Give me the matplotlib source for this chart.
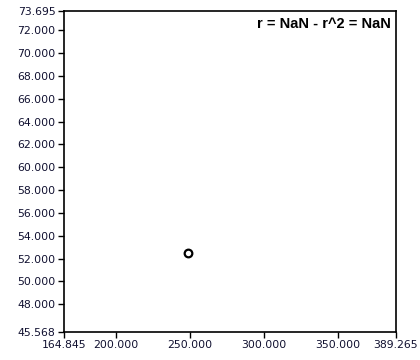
import matplotlib.pyplot as plt

x_vals = [249.0]
y_vals = [52.45]
x_min, x_max = 164.845, 389.265
y_min, y_max = 45.568, 73.695
x_ticks = [164.845, 200, 250, 300, 350, 389.265]
y_ticks = [45.568, 48, 50, 52, 54, 56, 58, 60, 62, 64, 66, 68, 70, 72, 73.695]
label = "r = NaN - r^2 = NaN"

fig = plt.figure(figsize=(4.2, 3.6), dpi=100)
ax = fig.add_axes([64/420, 1 - 332/360, 332/420, 321/360])

ax.plot(x_vals, y_vals, 'o', mfc='none', mec='black', ms=5.5, mew=1.6)

ax.set_xlim(x_min, x_max)
ax.set_ylim(y_min, y_max)
ax.set_xticks(x_ticks)
ax.set_yticks(y_ticks)
ax.set_xticklabels(["%.3f" % v for v in x_ticks])
ax.set_yticklabels(["%.3f" % v for v in y_ticks])
ax.tick_params(labelsize=7.8, labelcolor='#101030', length=4, width=1, pad=2)
for s in ax.spines.values():
    s.set_linewidth(1.2)

ax.text(0.985, 0.96, label, transform=ax.transAxes, ha='right', va='center',
        fontsize=10.5, fontweight='bold', family='Liberation Sans')

fig.savefig("out.png", dpi=100)
